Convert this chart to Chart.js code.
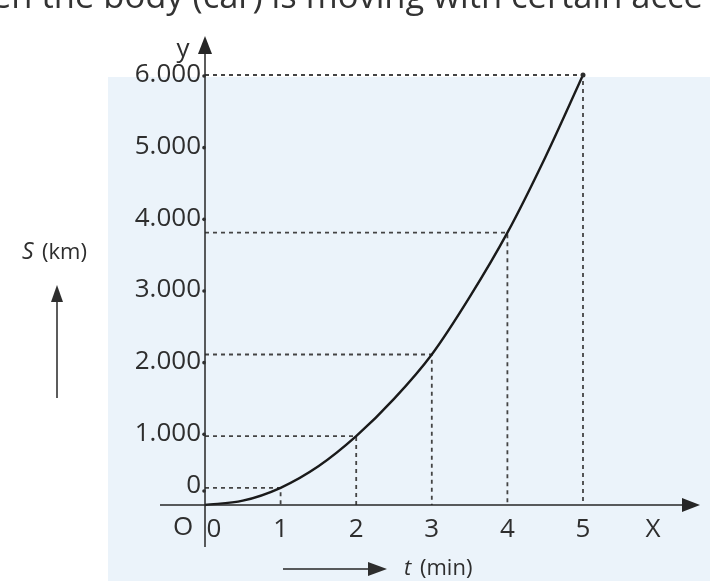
<!DOCTYPE html>
<html><head><meta charset="utf-8">
<script src="https://cdn.jsdelivr.net/npm/chart.js@4"></script>
<style>
html,body{margin:0;padding:0;background:#fff;overflow:hidden}
#wrap{position:relative;width:710px;height:581px}
canvas{position:absolute;left:0;top:0}
#top{position:absolute;left:-8px;top:-29px;font:34.5px "Open Sans",sans-serif;color:#333;white-space:nowrap;letter-spacing:0px}
</style></head><body>
<div id="wrap"><canvas id="c" width="710" height="581"></canvas>
<div id="top">en the body (car) is moving with certain acce</div></div>
<script>
// data
const times = [0, 0.5, 1, 1.5, 2, 2.5, 3, 3.5, 4, 4.5, 5];
const distance = [0, 60, 240, 540, 960, 1480, 2100, 2900, 3800, 4850, 6000];
const guideTimes = [1, 2, 3, 4, 5];
const guideValues = [240, 960, 2100, 3800, 6000];
const xTickValues = [0, 1, 2, 3, 4, 5];
const xTickLabels = ['0', '1', '2', '3', '4', '5'];
const yTickValues = [0, 1000, 2000, 3000, 4000, 5000, 6000];
const yTickLabels = ['0', '1.000', '2.000', '3.000', '4.000', '5.000', '6.000'];

const ink = '#262626';
const datasets = [];
guideTimes.forEach((t, i) => {
  datasets.push({
    data: [{x: 0, y: guideValues[i]}, {x: t, y: guideValues[i]}, {x: t, y: 0}],
    borderColor: '#444', borderWidth: 1.8, borderDash: [4, 4],
    pointRadius: 0, tension: 0, fill: false, order: 2
  });
});
datasets.push({
  data: times.map((t, i) => ({x: t, y: distance[i]})),
  borderColor: '#1a1a1a', borderWidth: 2.4, pointRadius: 0,
  cubicInterpolationMode: 'monotone', fill: false, order: 1
});

const deco = {
  id: 'deco',
  beforeDraw(chart) {
    const c = chart.ctx;
    c.save();
    c.fillStyle = '#fff';
    c.fillRect(0, 0, 710, 581);
    c.fillStyle = '#ebf3fa';
    c.fillRect(108, 77, 602, 504);
    c.restore();
  },
  afterDraw(chart) {
    const c = chart.ctx, xs = chart.scales.x, ys = chart.scales.y;
    const x0 = xs.getPixelForValue(0), y0 = ys.getPixelForValue(0);
    c.save();
    c.strokeStyle = ink; c.fillStyle = ink; c.lineWidth = 1.5;
    // y axis
    c.beginPath(); c.moveTo(x0, 547); c.lineTo(x0, 50); c.stroke();
    c.beginPath(); c.moveTo(x0, 36); c.lineTo(x0 - 7, 54); c.lineTo(x0 + 7, 54); c.closePath(); c.fill();
    // x axis
    c.beginPath(); c.moveTo(160, y0); c.lineTo(686, y0); c.stroke();
    c.beginPath(); c.moveTo(700, y0); c.lineTo(682, y0 - 7); c.lineTo(682, y0 + 7); c.closePath(); c.fill();
    // y tick labels
    c.fillStyle = '#2e2e2e';
    c.font = '26px "Open Sans", sans-serif';
    c.textAlign = 'right'; c.textBaseline = 'middle';
    yTickValues.forEach((v, i) => {
      let py = ys.getPixelForValue(v);
      if (v === 0) py -= 19;
      c.fillText(yTickLabels[i], x0 - 4, py);
      c.beginPath(); c.arc(x0 - 1, py + (v === 0 ? 5 : 1), 1.8, 0, 7); c.fill();
    });
    // x tick labels
    c.textAlign = 'center'; c.textBaseline = 'middle';
    xTickValues.forEach((v, i) => {
      let px = xs.getPixelForValue(v);
      if (v === 0) px += 9;
      c.fillText(xTickLabels[i], px, y0 + 25);
    });
    c.fillText('O', x0 - 22, y0 + 23);
    c.fillText('X', 653, y0 + 25);
    c.fillText('y', 183, 50);
    // S (km)
    c.textAlign = 'left';
    c.font = 'italic 23px "Open Sans", sans-serif';
    c.fillText('S', 22, 252);
    c.font = '22px "Open Sans", sans-serif';
    c.fillText('(km)', 42, 253);
    c.beginPath(); c.moveTo(57, 398); c.lineTo(57, 300); c.stroke();
    c.beginPath(); c.moveTo(57, 285); c.lineTo(51, 302); c.lineTo(63, 302); c.closePath(); c.fill();
    // t (min)
    c.font = 'italic 22px "Open Sans", sans-serif';
    c.fillText('t', 404, 569);
    c.font = '22px "Open Sans", sans-serif';
    c.fillText('(min)', 420, 569);
    c.beginPath(); c.moveTo(283, 569); c.lineTo(368, 569); c.stroke();
    c.beginPath(); c.moveTo(387, 569); c.lineTo(368, 562); c.lineTo(368, 576); c.closePath(); c.fill();
    // end point dot
    c.beginPath(); c.arc(xs.getPixelForValue(5), ys.getPixelForValue(6000), 2.5, 0, 7); c.fill();
    c.restore();
  }
};

new Chart(document.getElementById('c'), {
  type: 'line',
  data: {datasets},
  options: {
    responsive: false, animation: false, devicePixelRatio: 1,
    layout: {padding: {left: 205, right: 127, top: 75, bottom: 76}},
    plugins: {legend: {display: false}, tooltip: {enabled: false}},
    datasets: {line: {clip: false}},
    scales: {
      x: {type: 'linear', min: 0, max: 5, display: false},
      y: {type: 'linear', min: 0, max: 6000, display: false}
    }
  },
  plugins: [deco]
});
</script></body></html>
